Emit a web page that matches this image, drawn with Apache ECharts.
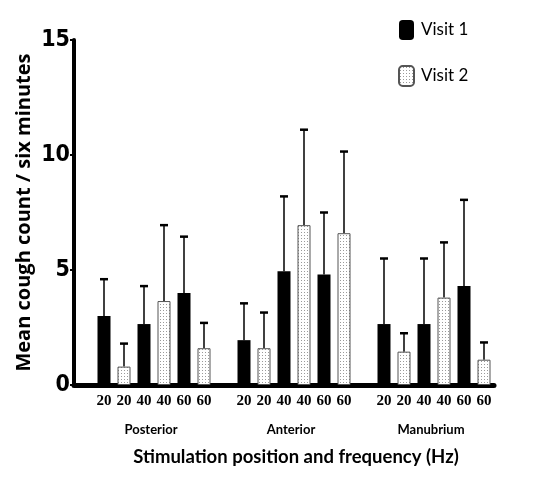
<!DOCTYPE html>
<html><head><meta charset="utf-8">
<script src="https://cdn.jsdelivr.net/npm/echarts@6/dist/echarts.min.js"></script>
<style>html,body{margin:0;padding:0;background:#fff}#c{width:533px;height:482px}</style>
</head><body><div id="c"></div>
<script>
// Data
const groups = ['Posterior', 'Anterior', 'Manubrium'];
const freqs = ['20', '40', '60'];
// order: Posterior 20/40/60, Anterior 20/40/60, Manubrium 20/40/60
const visit1Means = [3.0, 2.65, 4.0, 1.95, 4.95, 4.8, 2.65, 2.65, 4.3];
const visit1Upper = [4.6, 4.3, 6.45, 3.55, 8.2, 7.5, 5.5, 5.5, 8.05];
const visit2Means = [0.8, 3.65, 1.6, 1.6, 6.95, 6.6, 1.45, 3.8, 1.1];
const visit2Upper = [1.8, 6.95, 2.7, 3.15, 11.1, 10.15, 2.25, 6.2, 1.85];
const yTicks = [0, 5, 10, 15];

// Build slots: one blank slot before each group, then 20,20,40,40,60,60
const slotLabels = [], s1 = [], s2 = [], errs = [], groupSlots = [];
groups.forEach((g, gi) => {
  slotLabels.push(''); s1.push('-'); s2.push('-');
  const start = slotLabels.length;
  freqs.forEach((f, fi) => {
    const k = gi * 3 + fi;
    let idx = slotLabels.length;
    slotLabels.push(f); s1.push(visit1Means[k]); s2.push('-');
    errs.push([idx, visit1Means[k], visit1Upper[k]]);
    idx = slotLabels.length;
    slotLabels.push(f); s1.push('-'); s2.push(visit2Means[k]);
    errs.push([idx, visit2Means[k], visit2Upper[k]]);
  });
  groupSlots.push([start, slotLabels.length - 1]);
});

// dotted pattern for Visit 2
const pc = document.createElement('canvas');
pc.width = 3; pc.height = 3;
const pctx = pc.getContext('2d');
pctx.fillStyle = '#ffffff'; pctx.fillRect(0, 0, 3, 3);
pctx.fillStyle = '#9a9a9a'; pctx.fillRect(1, 1, 1, 1);

const chart = echarts.init(document.getElementById('c'), null, {renderer: 'canvas'});
const option = {
  animation: false,
  backgroundColor: '#fff',
  grid: {left: 74, right: 39, top: 40, bottom: 97},
  legend: {
    orient: 'vertical', left: 398, top: 20, padding: 0,
    itemWidth: 15, itemHeight: 20, itemGap: 25,
    data: ['Visit 1', 'Visit 2'],
    textStyle: {fontFamily: 'Lato', fontSize: 17, color: '#000', padding: [0, 0, 0, 2]}
  },
  xAxis: {
    type: 'category', data: slotLabels,
    axisLine: {lineStyle: {color: '#000', width: 5}},
    axisTick: {show: false},
    axisLabel: {interval: 0, margin: 9, fontFamily: 'Liberation Serif', fontWeight: 'bold', fontSize: 15, color: '#000'},
    name: 'Stimulation position and frequency (Hz)',
    nameLocation: 'middle', nameGap: 63, nameMoveOverlap: false,
    nameTextStyle: {fontFamily: 'Lato', fontSize: 18.5, color: '#000', fontWeight: 'bold', padding: [0, 0, 0, 24]}
  },
  yAxis: {
    type: 'value', min: 0, max: 15, interval: 5,
    splitLine: {show: false},
    axisLine: {show: true, lineStyle: {color: '#000', width: 4}},
    axisTick: {show: true, length: 4, lineStyle: {color: '#000', width: 2}},
    axisLabel: {margin: 4, fontFamily: '"DejaVu Sans Condensed", "Liberation Sans", sans-serif', fontWeight: 'bold', fontSize: 23, color: '#000',
      formatter: v => yTicks.includes(v) ? String(v) : ''},
    name: 'Mean cough count / six minutes',
    nameLocation: 'middle', nameGap: 40, nameMoveOverlap: false,
    nameTextStyle: {fontFamily: 'Open Sans', fontSize: 20, fontWeight: 'bold', color: '#000'}
  },
  series: [
    {name: 'Visit 1', type: 'bar', data: s1, barWidth: 13, barGap: '-100%',
      itemStyle: {color: '#000', borderColor: '#000', borderWidth: 0}},
    {name: 'Visit 2', type: 'bar', data: s2, barWidth: 13, barGap: '-100%',
      itemStyle: {color: {image: pc, repeat: 'repeat'}, borderColor: '#555', borderWidth: 1}},
    {name: 'err', type: 'custom', data: errs, z: 1,
      renderItem: (params, api) => {
        const x = api.value(0);
        const lo = api.coord([x, api.value(1)]);
        const hi = api.coord([x, api.value(2)]);
        return {type: 'group', children: [
          {type: 'line', shape: {x1: lo[0], y1: lo[1], x2: hi[0], y2: hi[1]}, style: {stroke: '#000', lineWidth: 1.5}},
          {type: 'line', shape: {x1: hi[0] - 4, y1: hi[1], x2: hi[0] + 4, y2: hi[1]}, style: {stroke: '#000', lineWidth: 2.5}}
        ]};
      }}
  ]
};
chart.setOption(option);

// group labels under the tick labels, centred on each group's bars
const gfx = groupSlots.map((gs, i) => {
  const a = chart.convertToPixel({xAxisIndex: 0}, gs[0]);
  const b = chart.convertToPixel({xAxisIndex: 0}, gs[1]);
  return {type: 'text', x: (a + b) / 2 - 3, y: 430,
    style: {text: groups[i], fontFamily: 'Lato', fontWeight: 'bold', fontSize: 13, fill: '#000', align: 'center', verticalAlign: 'middle'}};
});
chart.setOption({graphic: gfx});
</script>
</body></html>
